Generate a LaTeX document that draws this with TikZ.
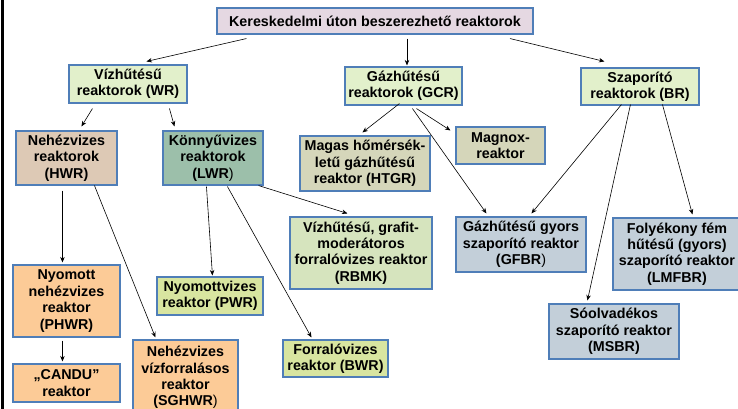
\documentclass[tikz,border=0pt]{standalone}
\usepackage{fontspec}
\setmainfont{Liberation Sans}
\usetikzlibrary{arrows.meta,calc}
\definecolor{bordc}{HTML}{4F7EB8}
\definecolor{ctitle}{HTML}{E5D8E2}
\definecolor{cgreen}{HTML}{E2F0CB}
\definecolor{chwr}{HTML}{DDC9B5}
\definecolor{clwr}{HTML}{9CBFAA}
\definecolor{ckhaki}{HTML}{D5D6BA}
\definecolor{crbmk}{HTML}{D6E4BE}
\definecolor{cblue}{HTML}{C3CFD9}
\definecolor{corange}{HTML}{FCCB97}
\definecolor{cyell}{HTML}{D8E5A0}
\tikzset{
  box/.style={draw=bordc, line width=1.1pt, rectangle, inner sep=1pt, align=center,
    font=\fontsize{14.3}{16.4}\selectfont\bfseries, text=black},
  arr/.style={-{Stealth[length=5.5pt,width=4.5pt]}, line width=0.6pt, black}
}
\begin{document}
\begin{tikzpicture}[x=1pt,y=-1pt]
\useasboundingbox (0,0) rectangle (738,409);
\fill[white] (0,0) rectangle (738,409);
\fill[black] (1,0) rectangle (4,409);

\node[box, fill=ctitle, minimum width=316pt, minimum height=26pt] (title) at (375,21) {Kereskedelmi úton beszerezhető reaktorok};
\node[box, fill=cgreen, minimum width=118pt, minimum height=38pt] (wr) at (128,84) {Vízhűtésű\\reaktorok (WR)};
\node[box, fill=cgreen, minimum width=117pt, minimum height=38pt] (gcr) at (403.5,86) {Gázhűtésű\\reaktorok (GCR)};
\node[box, fill=cgreen, minimum width=118pt, minimum height=37pt] (br) at (640,86.5) {Szaporító\\reaktorok (BR)};
\node[box, fill=chwr, minimum width=101pt, minimum height=54pt] (hwr) at (66.5,158) {Nehézvizes\\reaktorok\\(HWR)};
\node[box, fill=clwr, minimum width=100pt, minimum height=54pt] (lwr) at (213,158) {Könnyűvizes\\reaktorok\\(LWR\textmd{)}};
\node[box, fill=ckhaki, minimum width=130pt, minimum height=55pt] (htgr) at (365,163.5) {Magas hőmérsék-\\letű gázhűtésű\\reaktor (HTGR)};
\node[box, fill=ckhaki, minimum width=89pt, minimum height=37pt] (magnox) at (500.5,145.5) {Magnox-\\reaktor};
\node[box, fill=crbmk, minimum width=142pt, minimum height=72pt] (rbmk) at (361,253) {Vízhűtésű, grafit-\\moderátoros\\forralóvizes reaktor\\(RBMK)};
\node[box, fill=cblue, minimum width=130pt, minimum height=55pt] (gfbr) at (521,244.5) {Gázhűtésű gyors\\szaporító reaktor\\(GFBR\textmd{)}};
\node[box, fill=cblue, minimum width=128pt, minimum height=72pt] (lmfbr) at (677,254) {Folyékony fém\\hűtésű (gyors)\\szaporító reaktor\\(LMFBR)};
\node[box, fill=cblue, minimum width=130pt, minimum height=55pt] (msbr) at (614,331.5) {Sóolvadékos\\szaporító reaktor\\(MSBR)};
\node[box, fill=corange, minimum width=107pt, minimum height=72pt] (phwr) at (66.5,301) {Nyomott\\nehézvizes\\reaktor\\(PHWR)};
\node[box, fill=corange, minimum width=107pt, minimum height=38pt] (candu) at (66.5,383) {„CANDU”\\reaktor};
\node[box, fill=corange, minimum width=105pt, minimum height=75pt] (sghwr) at (185.5,377.5) {Nehézvizes\\vízforralásos\\reaktor\\(SGHWR\textmd{)}};
\node[box, fill=cyell, minimum width=106pt, minimum height=38pt] (pwr) at (210,296) {Nyomottvizes\\reaktor (PWR)};
\node[box, fill=cyell, minimum width=105pt, minimum height=37pt] (bwr) at (335.5,358.5) {Forralóvizes\\reaktor (BWR)};

\draw[arr] ($(title.south west)+(30,4)$) -- ($(wr.north west)+(78,-3)$);
\draw[arr] ($(title.south)+(32,4)$) -- ($(gcr.north)+(3.5,-1)$);
\draw[arr] ($(title.south)+(135,4)$) -- ($(br.north west)+(24,-6)$);
\draw[arr] ($(wr.south west)+(24,5)$) -- ($(hwr.north west)+(66,-4)$);
\draw[arr] ($(wr.south west)+(101,5)$) -- ($(lwr.north west)+(12,-4)$);
\draw[arr] ($(gcr.south west)+(55,-2)$) -- ($(htgr.north west)+(63,-3)$);
\draw[arr] ($(gcr.south west)+(72,3)$) -- ($(magnox.north west)+(-5,4)$);
\draw[arr] ($(gcr.south west)+(68,3)$) -- ($(gfbr.north west)+(31,-3)$);
\draw[arr] ($(br.south west)+(41,-1)$) -- ($(gfbr.north west)+(76,-3)$);
\draw[arr] ($(br.south west)+(50,-1)$) -- ($(msbr.north west)+(39,-3)$);
\draw[arr] ($(br.south west)+(82,-1)$) -- ($(lmfbr.north west)+(80,-3)$);
\draw[arr] ($(hwr.south west)+(47,5)$) -- ($(phwr.north west)+(50,-2)$);
\draw[arr] ($(hwr.south west)+(79,0)$) -- ($(sghwr.north west)+(23,-2)$);
\draw[arr] ($(phwr.south west)+(50,3)$) -- ($(candu.north west)+(50,-2)$);
\draw[arr] ($(lwr.south west)+(44,1)$) -- ($(pwr.north west)+(56,-1)$);
\draw[arr] ($(lwr.south west)+(65,1)$) -- ($(bwr.north west)+(29,-2)$);
\draw[arr] ($(lwr.south east)+(-5,0)$) -- ($(rbmk.north west)+(58,-3)$);
\end{tikzpicture}
\end{document}
